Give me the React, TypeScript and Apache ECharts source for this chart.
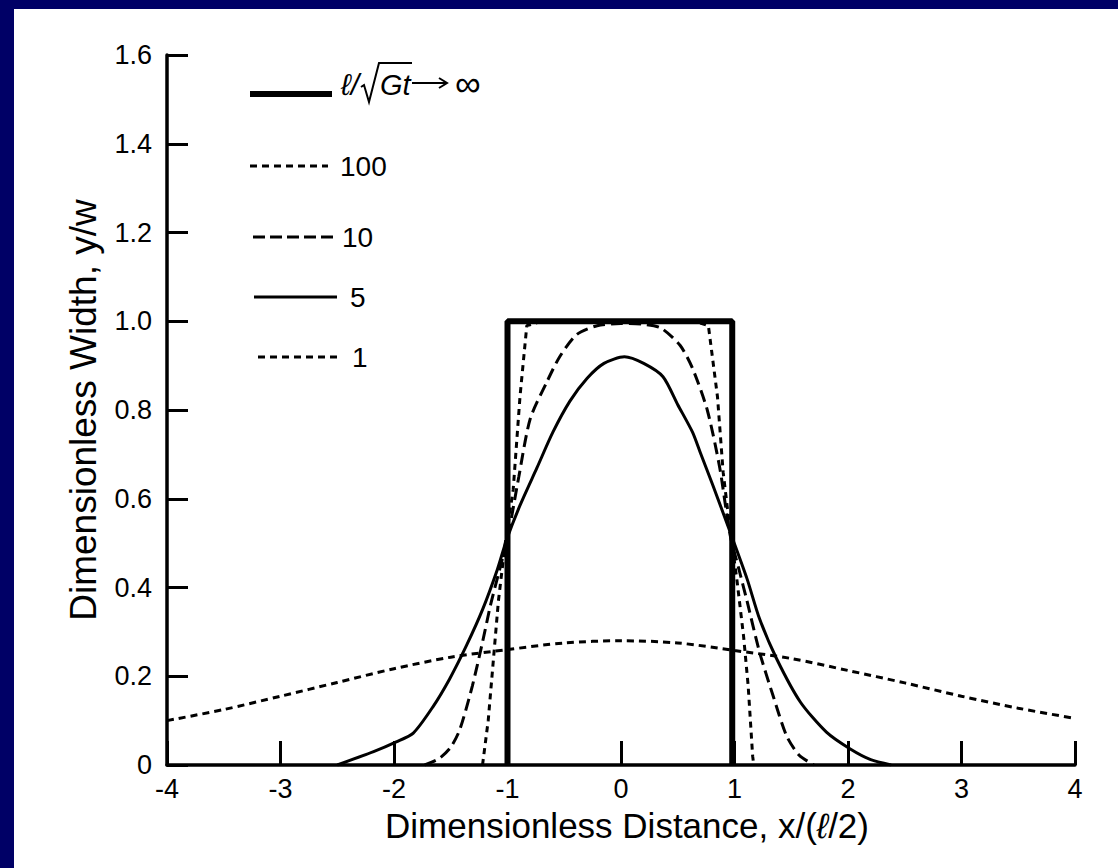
import React, { useEffect, useRef } from "react";
import * as echarts from "echarts";

// ---- Data ----
const xMin = -4;
const xMax = 4;
const yMin = 0;
const yMax = 1.6;

// l/sqrt(Gt) -> infinity : ideal rectangular profile
const curveInfX = [-1.0, -1.0, 0.98, 0.98];
const curveInfY = [0, 1.0, 1.0, 0];

// l/sqrt(Gt) = 100
const curve100X = [-1.22, -1.17, -1.13, -1.08, -1.02, -0.95, -0.89, -0.83, -0.7, 0, 0.65, 0.77, 0.85, 0.9, 0.96, 1.02, 1.08, 1.12, 1.16, 1.17];
const curve100Y = [0, 0.1, 0.22, 0.37, 0.5, 0.62, 0.83, 0.99, 1.0, 1.0, 1.0, 0.99, 0.83, 0.66, 0.53, 0.42, 0.29, 0.18, 0.02, 0];

// l/sqrt(Gt) = 10
const curve10X = [-1.73, -1.6, -1.5, -1.42, -1.31, -1.22, -1.15, -1.07, -1.0, -0.9, -0.8, -0.65, -0.54, -0.39, -0.21, 0, 0.2, 0.35, 0.52, 0.63, 0.76, 0.87, 0.96, 1.04, 1.11, 1.22, 1.34, 1.46, 1.57, 1.7];
const curve10Y = [0, 0.015, 0.04, 0.08, 0.178, 0.277, 0.36, 0.44, 0.51, 0.65, 0.78, 0.865, 0.92, 0.97, 0.99, 0.995, 0.993, 0.985, 0.946, 0.894, 0.8, 0.67, 0.52, 0.44, 0.37, 0.255, 0.156, 0.065, 0.022, 0];

// l/sqrt(Gt) = 5
const curve5X = [-2.5, -2.18, -1.98, -1.83, -1.66, -1.51, -1.36, -1.22, -1.09, -1.01, -0.89, -0.74, -0.6, -0.45, -0.3, -0.15, 0.03, 0.2, 0.37, 0.5, 0.63, 0.7, 0.81, 0.96, 1.11, 1.22, 1.37, 1.58, 1.81, 2.02, 2.2, 2.38];
const curve5Y = [0, 0.03, 0.052, 0.072, 0.13, 0.194, 0.27, 0.35, 0.44, 0.506, 0.585, 0.67, 0.75, 0.82, 0.871, 0.905, 0.92, 0.905, 0.875, 0.812, 0.75, 0.703, 0.63, 0.526, 0.42, 0.33, 0.24, 0.142, 0.074, 0.036, 0.012, 0];

// l/sqrt(Gt) = 1
const curve1X = [-4, -3.5, -3, -2.5, -2, -1.5, -1, -0.5, 0, 0.5, 1, 1.5, 2, 2.5, 3, 3.5, 4];
const curve1Y = [0.1, 0.125, 0.155, 0.186, 0.217, 0.243, 0.26, 0.275, 0.28, 0.275, 0.258, 0.24, 0.213, 0.185, 0.155, 0.128, 0.105];

const legendLabels = ["100", "10", "5", "1"];

const FONT = "'Liberation Sans', Arial, Helvetica, sans-serif";
const NAVY = "#000066";

const zip = (xs: number[], ys: number[]) => xs.map((x, i) => [x, ys[i]]);

export default function App() {
  const ref = useRef<HTMLDivElement>(null);

  useEffect(() => {
    if (!ref.current) return;
    const chart = echarts.init(ref.current, undefined, { renderer: "svg" });

    const lineSeries = (name: string, data: number[][], width: number, dash: any, smooth: number | boolean, z: number) => ({
      name,
      type: "line",
      data,
      symbol: "none",
      smooth,
      z,
      lineStyle: { color: "#000", width, type: dash },
      silent: true,
    });

    const legY = [166, 237, 297, 357];
    const legX1 = [250, 253, 254, 258];
    const legX2 = [328, 335, 337, 337];
    const legDash: any[] = [[7, 5], [12, 5], null, [7, 5]];
    const legTextX = [340, 342, 350, 352];

    const graphic: any[] = [
      { type: "rect", shape: { x: 0, y: 0, width: 14, height: 868 }, style: { fill: NAVY }, z: 100 },
      { type: "rect", shape: { x: 0, y: 0, width: 1118, height: 9 }, style: { fill: NAVY }, z: 100 },
      // legend: infinity entry
      { type: "line", shape: { x1: 250, y1: 94, x2: 332, y2: 94 }, style: { stroke: "#000", lineWidth: 6 } },
      { type: "text", x: 341, y: 84, style: { text: "ℓ/", fontSize: 30, fontStyle: "italic", fontFamily: FONT, fill: "#000", verticalAlign: "middle", align: "left" } },
      { type: "polyline", shape: { points: [[361, 87], [364, 85], [369, 102], [379, 63], [412, 63]] }, style: { stroke: "#000", lineWidth: 2, fill: null } },
      { type: "text", x: 380, y: 85, style: { text: "Gt", fontSize: 29, fontStyle: "italic", fontFamily: FONT, fill: "#000", verticalAlign: "middle", align: "left" } },
      { type: "line", shape: { x1: 412, y1: 83, x2: 446, y2: 83 }, style: { stroke: "#000", lineWidth: 2 } },
      { type: "polyline", shape: { points: [[439, 78], [447, 83], [439, 88]] }, style: { stroke: "#000", lineWidth: 2, fill: null } },
      { type: "text", x: 455, y: 83, style: { text: "∞", fontSize: 36, fontFamily: FONT, fill: "#000", verticalAlign: "middle", align: "left" } },
    ];
    legendLabels.forEach((lab, i) => {
      graphic.push({
        type: "line",
        shape: { x1: legX1[i], y1: legY[i], x2: legX2[i], y2: legY[i] },
        style: { stroke: "#000", lineWidth: 3, lineDash: legDash[i] || undefined },
      });
      graphic.push({
        type: "text",
        x: legTextX[i],
        y: legY[i],
        style: { text: lab, fontSize: 28, fontFamily: FONT, fill: "#000", verticalAlign: "middle", align: "left" },
      });
    });

    chart.setOption({
      animation: false,
      backgroundColor: "#fff",
      grid: { left: 167, right: 43, top: 55, bottom: 103, containLabel: false, outerBoundsMode: "none" },
      xAxis: {
        type: "value",
        min: xMin,
        max: xMax,
        interval: 1,
        name: "Dimensionless Distance, x/({i|ℓ}/2)",
        nameLocation: "middle",
        nameGap: 43,
        nameTextStyle: {
          fontSize: 35,
          fontFamily: FONT,
          color: "#000",
          padding: [0, 0, 0, 12],
          rich: { i: { fontSize: 35, fontFamily: FONT, fontStyle: "italic", color: "#000" } },
        },
        axisLine: { show: true, onZero: false, lineStyle: { color: "#000", width: 3.5 } },
        axisTick: { show: true, inside: true, length: 24, lineStyle: { color: "#000", width: 3 } },
        axisLabel: { fontSize: 27, fontFamily: FONT, color: "#000", margin: 10, showMinLabel: true, showMaxLabel: true },
        splitLine: { show: false },
      },
      yAxis: {
        type: "value",
        min: yMin,
        max: yMax,
        interval: 0.2,
        name: "Dimensionless Width, y/w",
        nameLocation: "middle",
        nameGap: 65,
        nameRotate: 90,
        nameTextStyle: { fontSize: 37, fontFamily: FONT, color: "#000" },
        axisLine: { show: true, onZero: false, lineStyle: { color: "#000", width: 3.5 } },
        axisTick: { show: true, inside: true, length: 21, lineStyle: { color: "#000", width: 3 } },
        axisLabel: {
          fontSize: 27,
          fontFamily: FONT,
          color: "#000",
          margin: 15,
          formatter: (v: number) => (Math.abs(v) < 1e-9 ? "0" : v.toFixed(1)),
        },
        splitLine: { show: false },
      },
      series: [
        lineSeries("1", zip(curve1X, curve1Y), 3, [7, 5], 0.3, 2),
        lineSeries("5", zip(curve5X, curve5Y), 3, "solid", 0.25, 3),
        lineSeries("10", zip(curve10X, curve10Y), 3, [12, 6], 0.25, 4),
        lineSeries("100", zip(curve100X, curve100Y), 3, [6, 5], false, 5),
        lineSeries("∞", zip(curveInfX, curveInfY), 6, "solid", false, 6),
      ],
      graphic,
    });

    return () => chart.dispose();
  }, []);

  return (
    <div
      ref={ref}
      style={{ position: "absolute", left: 0, top: 0, width: 1118, height: 868, background: "#fff" }}
    />
  );
}
